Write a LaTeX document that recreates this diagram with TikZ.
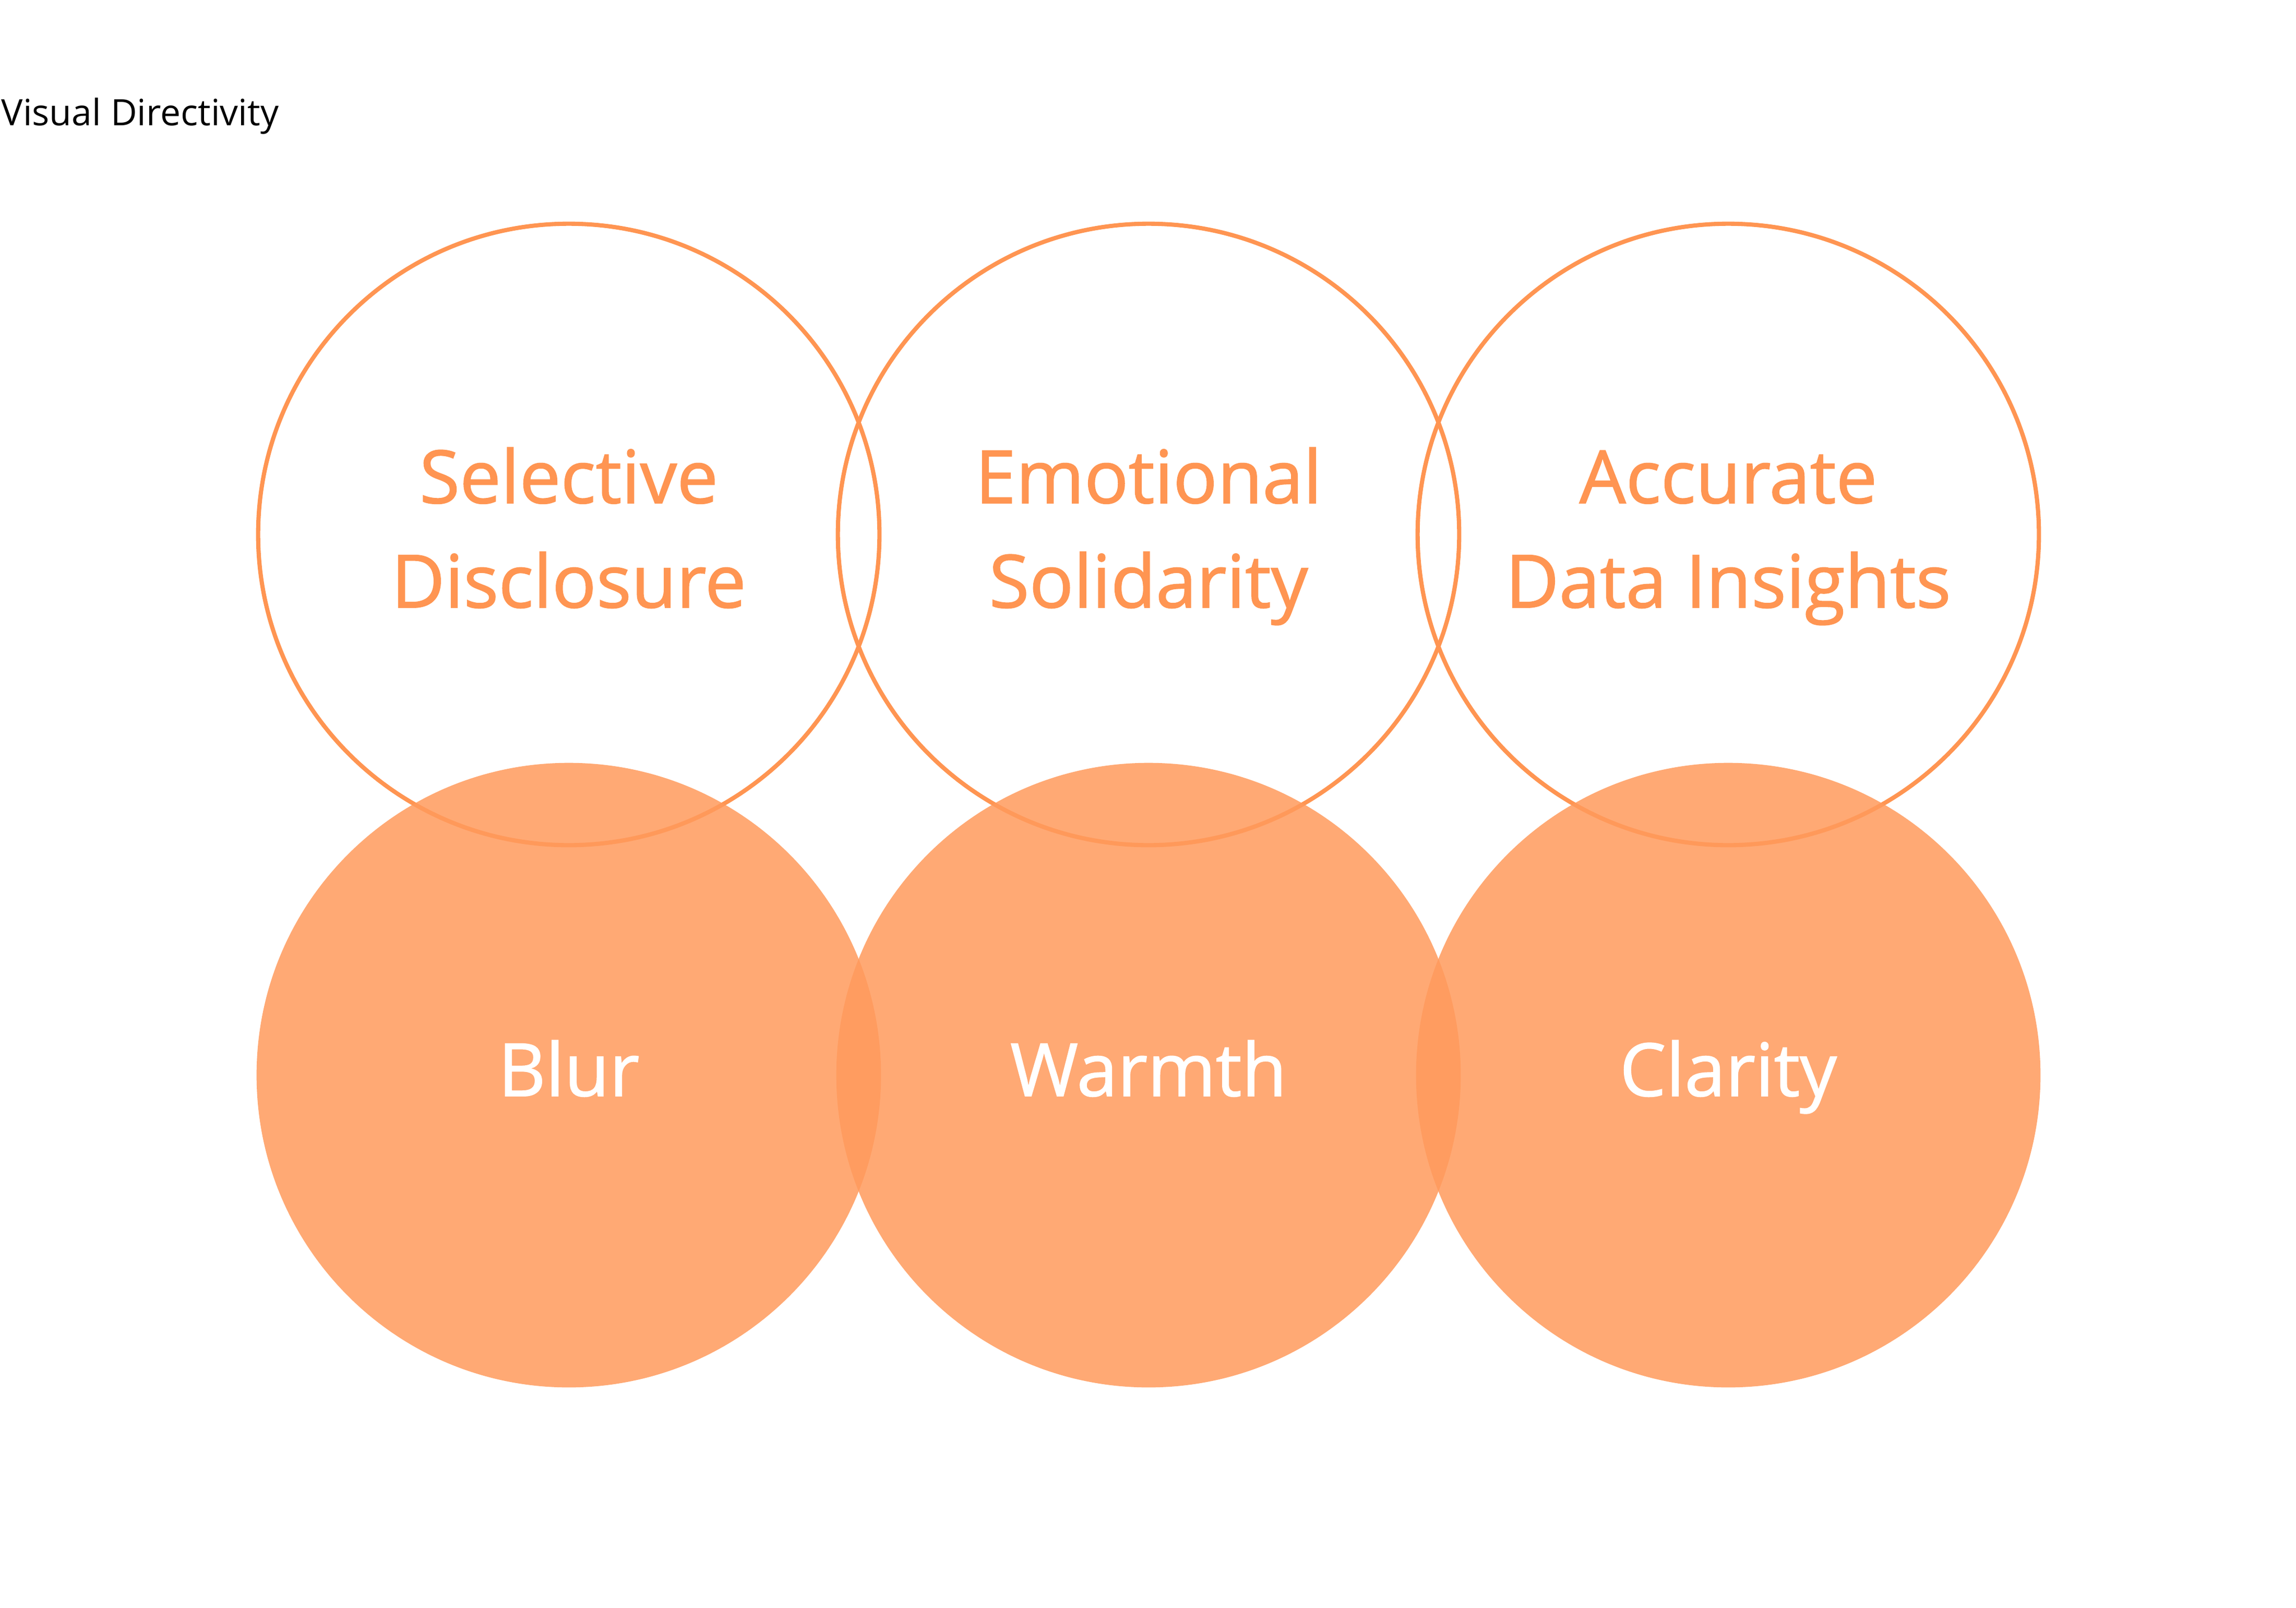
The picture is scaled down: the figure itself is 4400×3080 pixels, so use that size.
\documentclass[tikz,border=0pt]{standalone}
\usepackage{fontspec}
\setmainfont{Open Sans}
\newfontfamily\labelfont[FakeBold=1.2]{Open Sans}
\definecolor{vdorange}{HTML}{FF9552}
\definecolor{vdfill}{HTML}{FF9A5C}
\begin{document}
\begin{tikzpicture}[x=0.01cm,y=-0.01cm,
  topcircle/.style={circle, draw=vdorange, line width=2.3pt, minimum size=11.9cm, inner sep=0pt,
    text=vdorange, align=center, font=\labelfont\fontsize{40}{56.9}\selectfont},
  botcircle/.style={circle, fill=vdfill, fill opacity=0.85, text opacity=1, minimum size=11.96cm, inner sep=0pt,
    text=white, align=center, font=\labelfont\fontsize{40}{56.9}\selectfont},
  titletext/.style={anchor=base west, inner sep=0pt, font=\fontsize{19.8}{24}\selectfont, text=black}]
\useasboundingbox (0,0) rectangle (4400,3080);
\node[titletext] (title) at (2,240) {Visual Directivity};
\node[topcircle] (t1) at (1090,1024) {\strut Selective\\\strut Disclosure};
\node[topcircle] (t2) at (2201,1024) {\strut Emotional\\\strut Solidarity};
\node[topcircle] (t3) at (3312,1024) {\strut Accurate\\\strut Data Insights};
\node[botcircle] (b1) at (1090,2060) {\strut Blur};
\node[botcircle] (b2) at (2201,2060) {\strut Warmth};
\node[botcircle] (b3) at (3312,2060) {\strut Clarity};
\end{tikzpicture}
\end{document}
